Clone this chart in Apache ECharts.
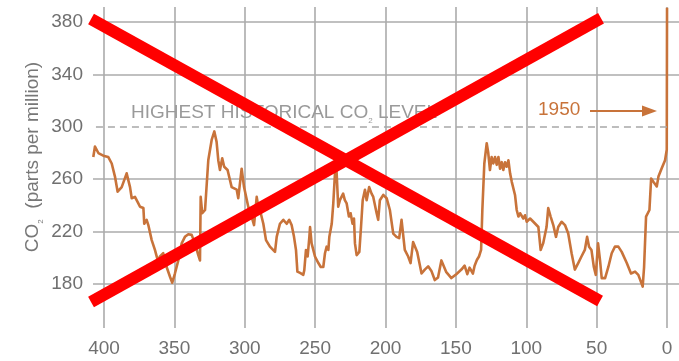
<!DOCTYPE html>
<html><head><meta charset="utf-8">
<script src="https://cdn.jsdelivr.net/npm/echarts@6/dist/echarts.min.js"></script>
<style>html,body{margin:0;padding:0;background:#fff}#c{width:679px;height:361px}</style>
</head><body><div id="c"></div>
<script>
// thousands of years before today
const years = [407.6,406.4,404,400.5,397,394.5,392.2,390.3,387.4,383.9,381.5,380.3,378,376.8,375.6,374.4,372,371.4,369.7,368.5,366.1,363.8,361.8,360.2,357.9,355.5,353.1,351.5,349.6,347.2,344.8,342.5,340.1,337.7,335.4,333,331.8,331.3,330.2,328.2,325.9,323.5,321.6,320,318.8,317.6,316,314.6,312.2,309.3,308.1,305.7,304.6,303.4,302.2,300.5,299.1,297.5,295.1,293.4,291.5,290.4,289.2,286.8,284.9,282.1,278.5,277.3,275,272.6,270.2,268.4,266.7,265,263.6,262.6,260.7,259.5,258.4,257.7,256.5,255.3,254.1,253.6,252.5,250.1,247.7,246,244.2,243,241.8,240.6,239.9,238.2,237.1,235.9,235.2,233.6,232.4,230.1,228.9,227.6,226,224.8,223.4,222.4,221.7,220.5,218.6,217.4,216.2,214.6,213.4,211.6,209.9,208.7,206.3,205.2,204,201.6,199.2,196.9,194.5,192.2,190.3,188.6,187.5,186.3,183.9,182.2,180.4,177.5,174.4,172.1,169.7,167.4,165,162.7,160.3,156.8,153.2,149.7,146.1,143.8,141.9,140.3,137.9,136.7,135.1,133.6,132.1,131.2,129.8,128.1,127,125.8,124.6,123.4,122.2,121,119.8,118.6,117.4,116.3,115.1,113.9,112.7,111.5,110.3,108,106.8,105.6,104.4,102.1,100.9,99.7,97.3,95,93.8,91.4,89.8,88,85.6,84.4,82.7,80.8,78.9,77.3,74.9,72.5,70.2,67.8,65.5,63.1,60.8,58.4,56.8,55.4,53.7,52,50.6,49,47.6,46.4,44,41.7,39.3,37,34.6,32.2,28.6,25.6,22.7,20.4,19.2,17.3,16.3,14.9,12.5,11.3,9.7,7.3,6.1,3.7,1.4,0.2,0];
// CO2 concentration, parts per million
const co2 = [277,285,280,278,277,272,262,250.5,254,264.5,254,245.5,246.5,244,241.5,239,238,226,229,225,213.5,206,198,201,203.5,193,185.5,181,188,198,211,216,218,217.5,211,202,198,246.5,234,236.5,274.5,290,296.5,288.5,274.5,267,276,269.5,267,254,254,252,245.5,244,268,254,255.5,239,231.5,225,246.5,239,236.5,226,213.5,208.5,204.5,216,226,229,226,229,225,216,206,189.5,188.5,188,187,190.5,206,201,216,223.5,211,201,196,193,193,203.5,208.5,206,216,226,241.5,264.5,276,239,244,249,244,241.5,231.5,234,226,230,211,202,204.5,223.5,244,252,244,254,249,246.5,234,229,244,248,245.5,236.5,218.5,216,215,229,230,206,201,196,212,204.5,188,191,193.5,190,183,185,198,189,184.5,187.5,191,194,187.5,192.5,188,194,198.3,201,206,236.5,272,287.5,280,267,277,272,277,271,277,268,273,267,273,269.5,274.5,264.5,258,248,236.5,231.5,234,230,232.5,227.5,230,227.5,226.5,223.5,206,211,223.5,238,231.5,225,216,223.5,227.5,225,218.5,203.5,191,196,201,206,216,208.5,206,193,187,211,198,184.5,184.5,193,203.5,208.5,208.5,204.5,196,188,189.5,187,185.5,178,193,231.5,236.5,260.5,258,254.5,262,268.5,274.5,282.5,391];
const xTickLabels = [0,50,100,150,200,250,300,350,400];
const yTickLabels = [180,220,260,300,340,380];
const yGridValues = [180,220,260,340,380];
const historicalMax = 300;
const crossLine1 = [[409.2,382.3],[47.6,167]];
const crossLine2 = [[409.2,166.3],[46.9,383]];

const FONT = "'Liberation Sans', Arial, Helvetica, sans-serif";
const ORANGE = '#c8733a';
const chart = echarts.init(document.getElementById('c'), null, {renderer:'canvas'});
const lineData = years.map((y,i)=>[y, co2[i]]);

chart.setOption({
  animation: false,
  backgroundColor: '#fff',
  grid: {left: 93, right: 0, top: 7, bottom: 33, containLabel: false},
  xAxis: {
    type: 'value', inverse: true, min: -8.5, max: 407.8,
    axisLine: {show: false},
    axisTick: {show: false, customValues: xTickLabels},
    axisLabel: {customValues: xTickLabels, color: '#707070', fontSize: 19, fontFamily: FONT, margin: 11},
    splitLine: {show: true, lineStyle: {color: '#ababab', width: 1.6}}
  },
  yAxis: {
    type: 'value', min: 146.4, max: 391.5,
    axisLine: {show: false},
    axisTick: {show: false, customValues: yGridValues},
    axisLabel: {customValues: yTickLabels, color: '#707070', fontSize: 19, fontFamily: FONT, margin: 10},
    splitLine: {show: true, lineStyle: {color: '#ababab', width: 1.6}}
  },
  series: [
    {
      type: 'line', data: lineData, showSymbol: false, symbol: 'none', z: 3,
      lineStyle: {color: ORANGE, width: 2.6, join: 'round'},
      markLine: {
        silent: true, symbol: ['none','none'], label: {show: false},
        lineStyle: {color: '#a8a8a8', width: 1.5, type: [7,5]},
        data: [[{coord: [405.7, historicalMax]}, {coord: [-1, historicalMax]}]]
      }
    },
    {
      type: 'line', data: crossLine1, showSymbol: false, symbol: 'none', clip: false, z: 10, silent: true,
      lineStyle: {color: '#ff0000', width: 12, cap: 'butt'}
    },
    {
      type: 'line', data: crossLine2, showSymbol: false, symbol: 'none', clip: false, z: 10, silent: true,
      lineStyle: {color: '#ff0000', width: 12, cap: 'butt'}
    }
  ],
  graphic: [
    {
      type: 'text', x: 33, y: 157, rotation: Math.PI/2, z: 5,
      style: {
        text: 'CO{sub|2}  (parts per million)', align: 'center', verticalAlign: 'middle',
        fill: '#777', font: '19px ' + FONT, lineHeight: 24,
        rich: {sub: {fontSize: 8, lineHeight: 8, verticalAlign: 'bottom', fill: '#777', fontFamily: FONT}}
      }
    },
    {
      type: 'text', x: 131, y: 100, z: 5,
      style: {
        text: 'HIGHEST HISTORICAL CO{sub|2} LEVEL', align: 'left', verticalAlign: 'top',
        fill: '#9a9a9a', font: '19px ' + FONT, lineHeight: 25,
        rich: {sub: {fontSize: 8, lineHeight: 8, verticalAlign: 'bottom', fill: '#9a9a9a', fontFamily: FONT}}
      }
    },
    {
      type: 'text', x: 538, y: 110, z: 5,
      style: {text: '1950', align: 'left', verticalAlign: 'middle', fill: ORANGE, font: '19px ' + FONT}
    },
    {
      type: 'line', z: 5, shape: {x1: 590, y1: 111, x2: 645, y2: 111},
      style: {stroke: ORANGE, lineWidth: 2}
    },
    {
      type: 'polygon', z: 5, shape: {points: [[642,105.5],[657,111],[642,116.5]]},
      style: {fill: ORANGE}
    }
  ]
});
</script></body></html>
